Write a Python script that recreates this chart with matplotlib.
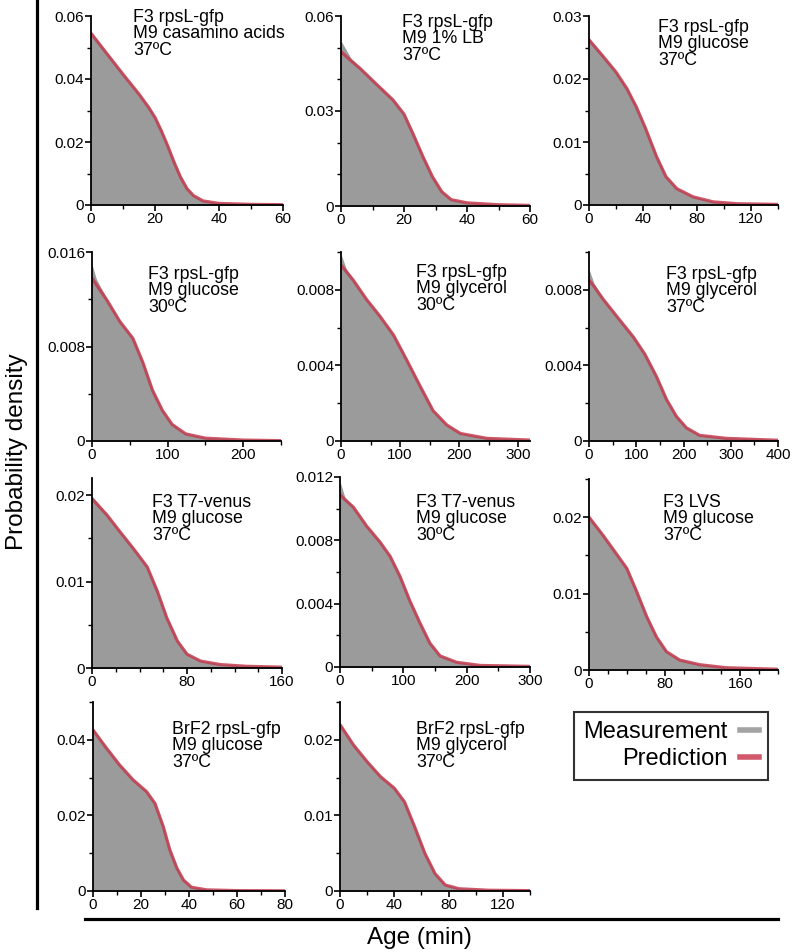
import matplotlib.pyplot as plt
from matplotlib.lines import Line2D
from matplotlib.ticker import MultipleLocator, FormatStrFormatter

plt.rcParams['font.family'] = ['Liberation Sans', 'DejaVu Sans']

W, H = 796, 952

# ---- data: age (min) and probability density ----
labels = [
    "F3 rpsL-gfp\nM9 casamino acids\n37ºC",
    "F3 rpsL-gfp\nM9 1% LB\n37ºC",
    "F3 rpsL-gfp\nM9 glucose\n37ºC",
    "F3 rpsL-gfp\nM9 glucose\n30ºC",
    "F3 rpsL-gfp\nM9 glycerol\n30ºC",
    "F3 rpsL-gfp\nM9 glycerol\n37ºC",
    "F3 T7-venus\nM9 glucose\n37ºC",
    "F3 T7-venus\nM9 glucose\n30ºC",
    "F3 LVS\nM9 glucose\n37ºC",
    "BrF2 rpsL-gfp\nM9 glucose\n37ºC",
    "BrF2 rpsL-gfp\nM9 glycerol\n37ºC",
]

ages_1 = [0, 5, 10, 15, 18, 20, 22, 24, 26, 28, 30, 32, 35, 40, 50, 60]
meas_1 = [.0548, .0481, .0415, .0352, .0310, .0278, .0235, .0187, .0135, .0088, .0052, .0030, .0013, .0005, .0002, .0001]
pred_1 = [.0545, .0480, .0415, .0352, .0310, .0278, .0235, .0187, .0135, .0088, .0052, .0030, .0013, .0005, .0002, .0001]

ages_2 = [0, 3, 6, 11, 16.5, 20, 23, 26, 29, 32, 35, 40, 50, 60]
meas_2 = [.0518, .0466, .0436, .0387, .0335, .0290, .0225, .0156, .0093, .0045, .0020, .0010, .0004, .0002]
pred_2 = [.0487, .0460, .0435, .0387, .0335, .0290, .0225, .0156, .0093, .0045, .0020, .0010, .0004, .0002]

ages_3 = [0, 10, 20, 28, 35, 42, 50, 57, 65, 77, 92, 110, 140]
meas_3 = [.0264, .0237, .0211, .0185, .0156, .0121, .0077, .0045, .0026, .0013, .0005, .0002, .0001]
pred_3 = [.0262, .0237, .0211, .0185, .0156, .0121, .0077, .0045, .0026, .0013, .0005, .0002, .0001]

ages_4 = [0, 5, 20, 37, 54, 67, 80, 93, 106, 124, 150, 200, 250]
meas_4 = [.0148, .0137, .0119, .0101, .0087, .0067, .0043, .0026, .0014, .0006, .00024, .00008, .00003]
pred_4 = [.0138, .0133, .0119, .0101, .0087, .0067, .0043, .0026, .0014, .0006, .00024, .00008, .00003]

ages_5 = [0, 8, 21, 43, 66, 89, 111, 134, 156, 179, 202, 247, 320]
meas_5 = [.0098, .0091, .0085, .0075, .0066, .0056, .0043, .0029, .0016, .00085, .0004, .00014, .00005]
pred_5 = [.0093, .0090, .0085, .0075, .0066, .0056, .0043, .0029, .0016, .00085, .0004, .00014, .00005]

ages_6 = [0, 10, 30, 65, 94, 118, 143, 164, 185, 206, 234, 291, 400]
meas_6 = [.0090, .0083, .0075, .0064, .0055, .0046, .0034, .0022, .0013, .0007, .0003, .00014, .00004]
pred_6 = [.0085, .0082, .0075, .0064, .0055, .0046, .0034, .0022, .0013, .0007, .0003, .00014, .00004]

ages_7 = [0, 12.7, 24, 35, 46.5, 55, 63, 72, 80, 91.5, 108, 130, 160]
meas_7 = [.0198, .0177, .0157, .0138, .0117, .0089, .0058, .0031, .0016, .0008, .0004, .0002, .0001]
pred_7 = [.0196, .0177, .0157, .0138, .0117, .0089, .0058, .0031, .0016, .0008, .0004, .0002, .0001]

ages_8 = [0, 7, 21, 42, 63, 79, 95, 110, 126, 142, 158, 184, 221, 300]
meas_8 = [.0116, .0107, .0101, .0089, .0079, .0070, .0057, .0042, .0028, .0015, .0007, .0003, .0001, .00004]
pred_8 = [.0109, .0106, .0101, .0089, .0079, .0070, .0057, .0042, .0028, .0015, .0007, .0003, .0001, .00004]

ages_9 = [0, 15, 29, 40, 50, 61, 71.5, 82, 96, 117, 145, 200]
meas_9 = [.0201, .0176, .0152, .0133, .0104, .0070, .0043, .0024, .0013, .0007, .0003, .0001]
pred_9 = [.0200, .0176, .0152, .0133, .0104, .0070, .0043, .0024, .0013, .0007, .0003, .0001]

ages_10 = [0, 5.6, 11, 16.7, 22.3, 25.8, 29.3, 32, 35, 37.7, 41, 47.4, 60, 80]
meas_10 = [.0428, .0378, .0334, .0294, .0263, .0232, .0170, .0109, .0060, .0029, .0010, .0003, .0001, .00005]
pred_10 = [.0426, .0378, .0334, .0294, .0263, .0232, .0170, .0109, .0060, .0029, .0010, .0003, .0001, .00005]

ages_11 = [0, 10, 20, 30, 40, 47.5, 55, 62.5, 70, 77.5, 87.5, 110, 140]
meas_11 = [.0221, .0193, .0171, .0151, .0136, .0118, .0085, .0050, .0023, .0008, .0003, .0001, .00005]
pred_11 = [.0220, .0193, .0171, .0151, .0136, .0118, .0085, .0050, .0023, .0008, .0003, .0001, .00005]

ages = [ages_1, ages_2, ages_3, ages_4, ages_5, ages_6, ages_7, ages_8, ages_9, ages_10, ages_11]
meas = [meas_1, meas_2, meas_3, meas_4, meas_5, meas_6, meas_7, meas_8, meas_9, meas_10, meas_11]
pred = [pred_1, pred_2, pred_3, pred_4, pred_5, pred_6, pred_7, pred_8, pred_9, pred_10, pred_11]

# axis limits and tick steps: (xmax, xmajor, xminor, ymax, ymajor, yminor)
scales = [
    (60, 20, 10, 0.06, 0.02, 0.01),
    (60, 20, 10, 0.06, 0.03, 0.01),
    (140, 40, 20, 0.03, 0.01, 0.005),
    (250, 100, 50, 0.016, 0.008, 0.004),
    (320, 100, 50, 0.01, 0.004, 0.002),
    (400, 100, 50, 0.01, 0.004, 0.002),
    (160, 80, 20, 0.022, 0.01, 0.005),
    (300, 100, 50, 0.012, 0.004, 0.002),
    (200, 80, 20, 0.025, 0.01, 0.005),
    (80, 20, 10, 0.05, 0.02, 0.01),
    (140, 40, 20, 0.025, 0.01, 0.005),
]

# panel boxes in pixels: left, right, top, bottom ; text anchor (x, y)
boxes = [
    (91, 283, 16, 205), (341, 530, 16, 206), (589, 778, 16, 205),
    (92, 281, 252, 441), (341, 530, 252, 441), (589, 778, 252, 441),
    (92, 282, 478, 668), (340, 530, 477, 667), (589, 778, 479, 670),
    (93, 285, 702, 891), (340, 530, 702, 891),
]
text_pos = [
    (133, 9), (402, 14), (658, 19),
    (148, 266), (416, 264), (666, 266),
    (152, 494), (416, 494), (663, 494),
    (172, 721), (416, 721),
]

GRAY = '#9b9b9b'
RED = '#c23b4e'

fig = plt.figure(figsize=(W / 100, H / 100), dpi=100)

for i in range(len(labels)):
    l, r, t, b = boxes[i]
    ax = fig.add_axes([l / W, 1 - b / H, (r - l) / W, (b - t) / H])
    xmax, xmaj, xmin, ymax, ymaj, ymin = scales[i]
    ax.fill_between(ages[i], meas[i], 0, color=GRAY, lw=0.8, edgecolor=GRAY)
    ax.plot(ages[i], pred[i], color=RED, lw=2.3, alpha=0.85, solid_capstyle='round',
            solid_joinstyle='round')
    ax.set_xlim(0, xmax)
    ax.set_ylim(0, ymax)
    ax.xaxis.set_major_locator(MultipleLocator(xmaj))
    ax.xaxis.set_minor_locator(MultipleLocator(xmin))
    ax.yaxis.set_major_locator(MultipleLocator(ymaj))
    ax.yaxis.set_minor_locator(MultipleLocator(ymin))
    ax.xaxis.set_major_formatter(FormatStrFormatter('%g'))
    ax.yaxis.set_major_formatter(FormatStrFormatter('%g'))
    for s in ['top', 'right']:
        ax.spines[s].set_visible(False)
    for s in ['left', 'bottom']:
        ax.spines[s].set_linewidth(1.3)
    ax.tick_params(which='major', length=4, width=1.2, labelsize=11, pad=1, direction='out')
    ax.tick_params(which='minor', length=3, width=1.0, direction='out')
    ax.patch.set_visible(False)
    tx, ty = text_pos[i]
    fig.text(tx / W, 1 - ty / H, labels[i], fontsize=12.8, va='top', ha='left',
             linespacing=0.95)

# big frame lines
fig.add_artist(Line2D([37 / W, 37 / W], [1, 1 - 908 / H], color='black', lw=2.3))
fig.add_artist(Line2D([85 / W, 778 / W], [1 - 919 / H, 1 - 919 / H], color='black', lw=2.3))

fig.text(17 / W, 1 - 452 / H, "Probability density", rotation=90, fontsize=17.5,
         ha='center', va='center')
fig.text(419 / W, 1 - 938 / H, "Age (min)", fontsize=17.5, ha='center', va='center')

handles = [Line2D([], [], color='#a3a3a3', lw=4), Line2D([], [], color='#d2596b', lw=4)]
leg = fig.legend(handles, ["Measurement", "Prediction"], loc='upper right',
                 bbox_to_anchor=(768 / W, 1 - 712 / H), markerfirst=False, fontsize=17,
                 frameon=True, fancybox=False, edgecolor='black', handlelength=0.8,
                 borderpad=0.4, labelspacing=0.2, handletextpad=0.5, borderaxespad=0)
leg.get_frame().set_linewidth(1.5)

fig.savefig('out.png', dpi=100)
